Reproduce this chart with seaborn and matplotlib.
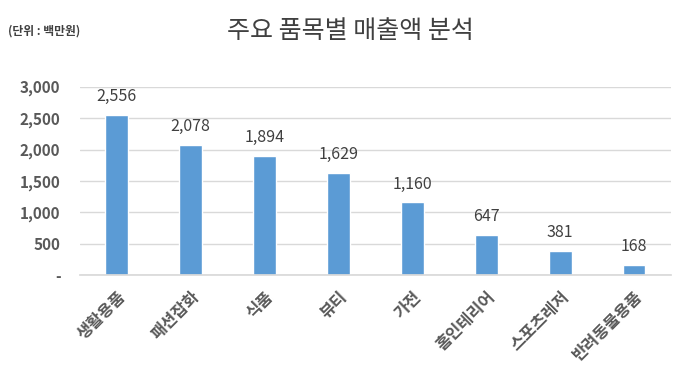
import matplotlib
matplotlib.use("Agg")
import matplotlib.pyplot as plt
import seaborn as sns
import pandas as pd
from matplotlib.ticker import FuncFormatter

categories = ["생활용품", "패션잡화", "식품", "뷰티", "가전", "홈인테리어", "스포츠레저", "반려동물용품"]
values = [2556, 2078, 1894, 1629, 1160, 647, 381, 168]
yticks = [0, 500, 1000, 1500, 2000, 2500, 3000]

sns.set_theme(style="white")
plt.rcParams['font.family'] = ['Noto Sans CJK KR', 'DejaVu Sans']

df = pd.DataFrame({"cat": categories, "val": values})

fig = plt.figure(figsize=(6.77, 3.87), dpi=100)
ax = fig.add_axes([0.118, 0.289, 0.873, 0.487])
sns.barplot(data=df, x="cat", y="val", color="#5B9BD5", width=0.31, saturation=1, ax=ax)

ax.set_ylim(0, 3000)
ax.set_yticks(yticks)
ax.yaxis.set_major_formatter(FuncFormatter(lambda v, p: "-" if v == 0 else f"{int(v):,}"))
ax.grid(axis="y", color="#D9D9D9", linewidth=1)
ax.set_axisbelow(True)
for s in ["top", "right", "left"]:
    ax.spines[s].set_visible(False)
ax.spines["bottom"].set_color("#D9D9D9")
ax.set_xlabel("")
ax.set_ylabel("")
ax.tick_params(axis="y", length=0, pad=14, labelsize=11, labelcolor="#595959")
ax.tick_params(axis="x", length=0, pad=9, labelsize=11.8, labelcolor="#595959")
for lbl in ax.get_yticklabels():
    lbl.set_fontweight("bold")
for lbl in ax.get_xticklabels():
    lbl.set_rotation(45)
    lbl.set_ha("right")
    lbl.set_rotation_mode("anchor")
    lbl.set_fontweight("bold")

for i, v in enumerate(values):
    ax.annotate(f"{v:,}", (i, v), xytext=(0, 7), textcoords="offset points",
                ha="center", va="bottom", fontsize=11.5, color="#404040")

fig.text(0.517, 0.92, "주요 품목별 매출액 분석", ha="center", va="center", fontsize=18, color="#404040", fontweight="medium")
fig.text(0.012, 0.92, "(단위 : 백만원)", ha="left", va="center", fontsize=8.5, color="#404040", fontweight="bold")

fig.savefig("out.png", dpi=100)
